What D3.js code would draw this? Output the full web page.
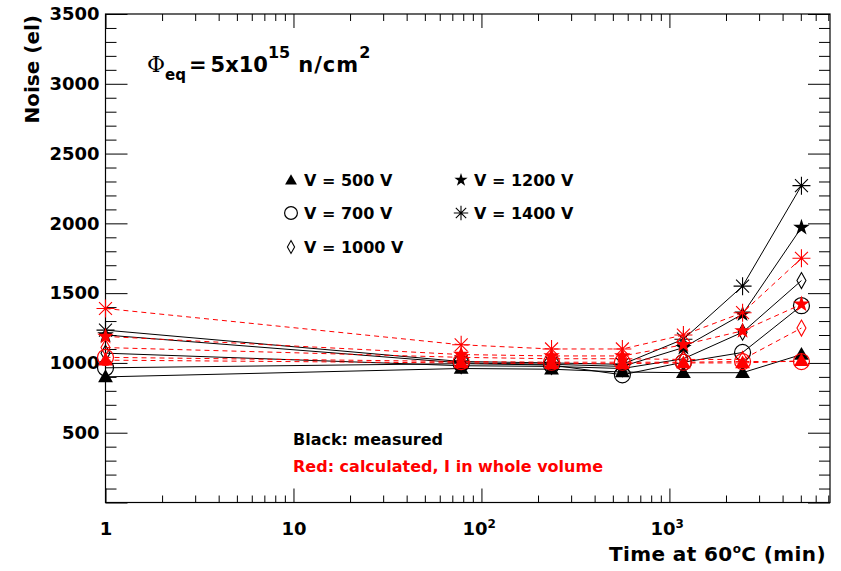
<!DOCTYPE html>
<html>
<head>
<meta charset="utf-8">
<script src="https://cdn.jsdelivr.net/npm/d3@7"></script>
<style>
  body { margin: 0; background: #fff; }
  text { font-family: "DejaVu Sans", sans-serif; font-weight: bold; }
</style>
</head>
<body>
<div id="chart"></div>
<script>
// annealing time (min) at 60 C
var times = [1, 78, 236, 562, 1187, 2450, 5040];
var voltages = ["500", "700", "1000", "1200", "1400"];
var markerTypes = ["triangle", "circle", "diamond", "star", "asterisk"];

// measured noise (black)
var measured500  = [900, 960, 955, 935, 930, 930, 1060];
var measured700  = [965, 995, 985, 915, 1005, 1075, 1410];
var measured1000 = [1070, 980, 975, 960, 1030, 1220, 1590];
var measured1200 = [1200, 1000, 990, 975, 1110, 1350, 1970];
var measured1400 = [1235, 1010, 1000, 990, 1170, 1550, 2270];

// calculated noise, I in whole volume (red)
var calc500  = [1020, 1000, 995, 995, 1000, 1000, 1015];
var calc700  = [1040, 1010, 1005, 1005, 1005, 1010, 1010];
var calc1000 = [1110, 1040, 1030, 1030, 1025, 1025, 1250];
var calc1200 = [1190, 1060, 1050, 1050, 1130, 1230, 1420];
var calc1400 = [1390, 1130, 1100, 1100, 1200, 1360, 1750];

var yMajor = [0, 500, 1000, 1500, 2000, 2500, 3000, 3500];
var xMajor = [1, 10, 100, 1000];

(function () {
    var width = 841, height = 571;
    var left = 105.5, right = 830, top = 14, bottom = 502.5;

    var svg = d3.select("#chart").append("svg")
        .attr("width", width).attr("height", height);

    var x = d3.scaleLog().domain([1, 7150]).range([left, right]);
    var y = d3.scaleLinear().domain([0, 3500]).range([bottom, top]);

    var yMinor = d3.range(0, 3501, 100).filter(function (v) { return v % 500 != 0; });
    var xMinor = [];
    [1, 10, 100, 1000].forEach(function (d) {
        for (var k = 2; k <= 9; k++) if (d * k < 7150) xMinor.push(d * k);
    });

    function tidy(g) {
        g.select(".domain").remove();
        g.selectAll("line").attr("stroke", "#000").attr("stroke-width", 1);
    }

    // y axis, left with labels
    svg.append("g").attr("transform", "translate(" + left + ",0)")
        .call(d3.axisLeft(y).tickValues(yMajor).tickSize(-22).tickPadding(6)
            .tickFormat(function (d) { return d == 0 ? "" : d; }))
        .call(tidy)
        .selectAll("text").attr("font-size", 18).attr("fill", "#000")
        .attr("font-family", "DejaVu Sans").attr("font-weight", "bold");
    svg.append("g").attr("transform", "translate(" + left + ",0)")
        .call(d3.axisLeft(y).tickValues(yMinor).tickSize(-11).tickFormat(""))
        .call(tidy);
    svg.append("g").attr("transform", "translate(" + right + ",0)")
        .call(d3.axisRight(y).tickValues(yMajor).tickSize(-22).tickFormat(""))
        .call(tidy);
    svg.append("g").attr("transform", "translate(" + right + ",0)")
        .call(d3.axisRight(y).tickValues(yMinor).tickSize(-11).tickFormat(""))
        .call(tidy);

    // x axis, bottom with labels
    var xb = svg.append("g").attr("transform", "translate(0," + bottom + ")")
        .call(d3.axisBottom(x).tickValues(xMajor).tickSize(-14).tickPadding(20)
            .tickFormat(function (d) { return ""; }))
        .call(tidy);
    xb.selectAll(".tick text").each(function (d) {
        var t = d3.select(this).attr("font-size", 18).attr("fill", "#000")
            .attr("font-family", "DejaVu Sans").attr("font-weight", "bold");
        if (d < 100) {
            t.text(d);
        } else {
            var p = Math.round(Math.log10(d));
            t.attr("dx", "-0.15em");
            t.append("tspan").text("10");
            t.append("tspan").attr("dy", -7).attr("font-size", 12).text(p);
        }
    });
    svg.append("g").attr("transform", "translate(0," + bottom + ")")
        .call(d3.axisBottom(x).tickValues(xMinor).tickSize(-7).tickFormat(""))
        .call(tidy);
    svg.append("g").attr("transform", "translate(0," + top + ")")
        .call(d3.axisTop(x).tickValues(xMajor).tickSize(-14).tickFormat(""))
        .call(tidy);
    svg.append("g").attr("transform", "translate(0," + top + ")")
        .call(d3.axisTop(x).tickValues(xMinor).tickSize(-7).tickFormat(""))
        .call(tidy);

    // frame
    svg.append("rect").attr("x", left).attr("y", top)
        .attr("width", right - left).attr("height", bottom - top)
        .attr("fill", "none").attr("stroke", "#000").attr("stroke-width", 1.2);

    // axis titles
    svg.append("text").attr("transform", "translate(39," + (top + 1) + ") rotate(-90)")
        .attr("text-anchor", "end").attr("font-size", 20).text("Noise (el)");
    var xt = svg.append("text").attr("x", 826).attr("y", 561)
        .attr("text-anchor", "end").attr("font-size", 20).attr("letter-spacing", 0.4);
    xt.append("tspan").text("Time at 60");
    xt.append("tspan").attr("dy", -8).attr("font-size", 12).text("o");
    xt.append("tspan").attr("dy", 8).text("C (min)");

    // markers
    function marker(g, type, color, s) {
        s = s || 1;
        if (type == "triangle") {
            g.append("path").attr("d", d3.symbol(d3.symbolTriangle, 95 * s * s)())
                .attr("transform", "translate(0,1)")
                .attr("fill", color);
        } else if (type == "circle") {
            g.append("circle").attr("r", 8 * s).attr("fill", "none")
                .attr("stroke", color).attr("stroke-width", 1.2);
        } else if (type == "diamond") {
            g.append("path").attr("d", "M0," + (-8 * s) + "L" + (4.5 * s) + ",0L0," + (8 * s) + "L" + (-4.5 * s) + ",0Z")
                .attr("fill", "none").attr("stroke", color).attr("stroke-width", 1.1);
        } else if (type == "star") {
            g.append("path").attr("d", d3.symbol(d3.symbolStar, 85 * s * s)())
                .attr("fill", color);
        } else {
            var r = 9 * s, q = r * 0.72;
            g.append("path").attr("d", "M" + (-r) + ",0H" + r + "M0," + (-r) + "V" + r +
                "M" + (-q) + "," + (-q) + "L" + q + "," + q + "M" + (-q) + "," + q + "L" + q + "," + (-q))
                .attr("stroke", color).attr("stroke-width", 1.1).attr("fill", "none");
        }
    }

    var line = d3.line()
        .x(function (d, i) { return x(times[i]); })
        .y(function (d) { return y(d); });

    var measured = [measured500, measured700, measured1000, measured1200, measured1400];
    var calculated = [calc500, calc700, calc1000, calc1200, calc1400];

    function drawSet(sets, color, dash) {
        var g = svg.append("g");
        sets.forEach(function (vals, k) {
            g.append("path").attr("d", line(vals)).attr("fill", "none")
                .attr("stroke", color).attr("stroke-width", 1)
                .attr("stroke-dasharray", dash);
        });
        sets.forEach(function (vals, k) {
            vals.forEach(function (v, i) {
                var m = g.append("g").attr("transform", "translate(" + x(times[i]) + "," + y(v) + ")");
                marker(m, markerTypes[k], color);
            });
        });
    }
    drawSet(measured, "#000", null);
    drawSet(calculated, "#ff0000", "5,4");

    // legend
    var legPos = [[291, 180], [291, 213], [291, 247], [461, 180], [461, 213]];
    voltages.forEach(function (v, k) {
        var p = legPos[k];
        var m = svg.append("g").attr("transform", "translate(" + p[0] + "," + p[1] + ")");
        marker(m, markerTypes[k], "#000", 0.8);
        svg.append("text").attr("x", p[0] + 13).attr("y", p[1] + 6)
            .attr("font-size", 16).text("V = " + v + " V");
    });

    // title
    var tt = svg.append("text").attr("x", 147).attr("y", 72).attr("font-size", 21);
    tt.append("tspan").attr("font-family", "DejaVu Serif").attr("font-weight", "normal")
        .attr("font-size", 22).text("\u03A6");
    tt.append("tspan").attr("dy", 8).attr("font-size", 15).text("eq");
    tt.append("tspan").attr("dy", -8).attr("dx", 3).text("=");
    tt.append("tspan").attr("dx", 4).text("5x10");
    tt.append("tspan").attr("dy", -14).attr("font-size", 16).text("15");
    tt.append("tspan").attr("dy", 14).attr("dx", 8).attr("letter-spacing", 1).text("n/cm");
    tt.append("tspan").attr("dy", -14).attr("font-size", 16).text("2");

    svg.append("text").attr("x", 293).attr("y", 445).attr("font-size", 16).text("Black: measured");
    svg.append("text").attr("x", 293).attr("y", 472).attr("font-size", 16)
        .attr("fill", "#ff0000").text("Red: calculated, I in whole volume");
})();
</script>
</body>
</html>
